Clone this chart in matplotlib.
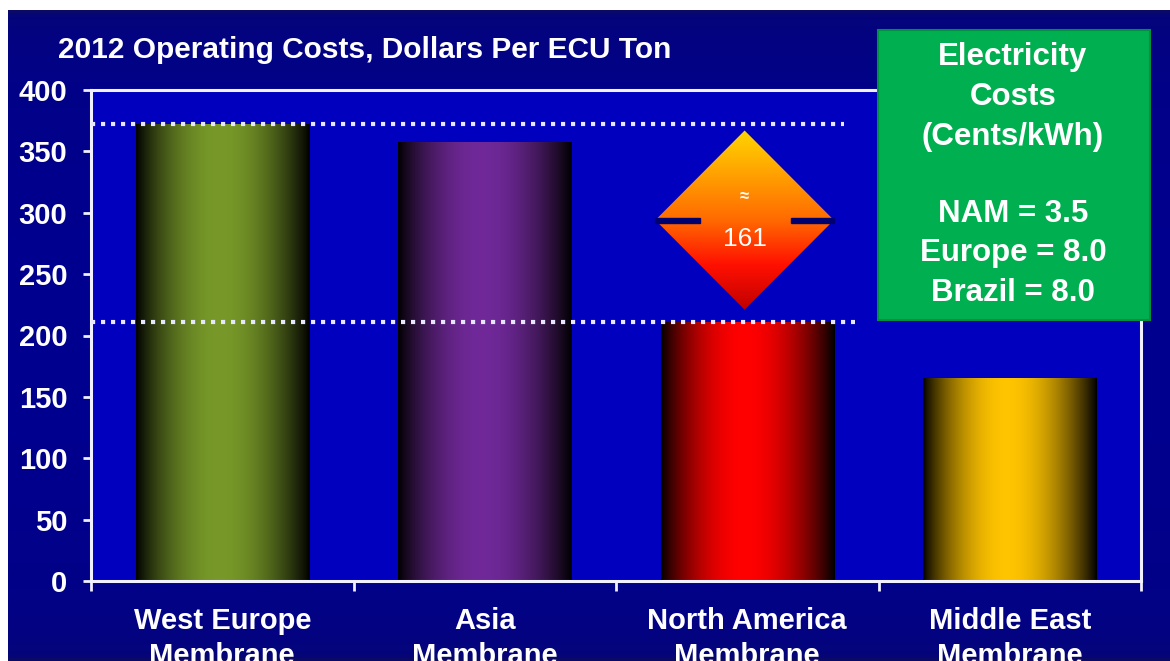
import numpy as np
import matplotlib.pyplot as plt
from matplotlib.patches import Rectangle, Polygon
from matplotlib.colors import LinearSegmentedColormap

plt.rcParams['font.family'] = ['Liberation Sans', 'DejaVu Sans']

# Operating costs per ECU ton, 2012
regions = ["West Europe\nMembrane", "Asia\nMembrane",
           "North America\nMembrane", "Middle East\nMembrane"]
costs = [372, 358, 211, 165]
bar_colors = [(0.47, 0.60, 0.16), (0.44, 0.16, 0.60),
              (1.00, 0.00, 0.00), (1.00, 0.77, 0.00)]
yticks = [0, 50, 100, 150, 200, 250, 300, 350, 400]

title = "2012 Operating Costs, Dollars Per ECU Ton"
power_lines = ["Electricity", "Costs", "(Cents/kWh)", "",
               "NAM = 3.5", "Europe = 8.0", "Brazil = 8.0"]

fig = plt.figure(figsize=(11.7, 6.61), dpi=100)
fig.patch.set_facecolor("white")

# navy slide background (small white margin on top and left)
bg = np.linspace(0, 1, 200)
bg_img = np.outer(np.sin(np.pi * bg) ** 0.2, np.ones(200))
bg_ax = fig.add_axes([8 / 1170, 0, 1 - 8 / 1170, 1 - 10 / 661])
bg_ax.imshow(bg_img, cmap=LinearSegmentedColormap.from_list(
    "bgc", ["#0a0a66", "#00008f"]), aspect="auto", extent=(0, 1, 0, 1))
bg_ax.set_axis_off()

ax = fig.add_axes([91 / 1170, 1 - 581 / 661, (1141 - 91) / 1170, (581 - 90) / 661])
ax.set_facecolor("#0000be")

x = np.arange(len(regions))
width = 0.66
bars = ax.bar(x, costs, width=width, color="none", zorder=2)

# cylinder shading for each bar
t = np.linspace(0, 1, 256)
shade = np.clip(np.sin(np.pi * t ** 0.95) ** 0.9, 0, 1)
for bar, col in zip(bars, bar_colors):
    img = np.ones((2, 256, 3)) * np.array(col)
    img = img * shade[None, :, None]
    x0 = bar.get_x()
    im = ax.imshow(img, extent=(x0, x0 + bar.get_width(), 0, bar.get_height()),
                   aspect="auto", zorder=2, interpolation="bilinear")
    im.set_clip_path(bar)

ax.set_xlim(-0.5, len(regions) - 0.5)
ax.set_ylim(0, 400)

# dotted reference lines at the West Europe and North America levels
ax.hlines(costs[0], -0.5, 2.37, colors="#e6e6ff", lw=3,
          linestyles=(0, (1, 1.4)), zorder=3)
ax.hlines(costs[2], -0.5, 2.41, colors="#e6e6ff", lw=3,
          linestyles=(0, (1, 1.4)), zorder=3)

# gap marker between the two levels
gap = costs[0] - costs[2]
cx, cy, hw, hh = 1.99, 294, 0.34, 73
diamond = Polygon([(cx, cy + hh), (cx + hw, cy), (cx, cy - hh), (cx - hw, cy)],
                  closed=True, facecolor="none", edgecolor="none", zorder=4)
ax.add_patch(diamond)
grad = LinearSegmentedColormap.from_list(
    "dia", ["#c00000", "#ff1000", "#ff6a00", "#ffa000", "#ffd500"])
dim = ax.imshow(np.linspace(0, 1, 256)[:, None], cmap=grad, origin="lower",
                extent=(cx - hw, cx + hw, cy - hh, cy + hh), aspect="auto",
                zorder=4)
dim.set_clip_path(diamond)
for a, b in [(cx - hw, cx - 0.17), (cx + 0.175, cx + hw)]:
    ax.add_patch(Rectangle((a, cy - 2), b - a, 4, color="#00006e", zorder=5))
ax.text(cx, cy + 19, "\u2248", color="white", fontsize=12, ha="center",
        va="center", fontweight="bold", zorder=6)
ax.text(cx, cy - 15, f"{gap}", color="white", fontsize=19, ha="center",
        va="center", zorder=6)

# axes styling
for side in ["left", "right", "top", "bottom"]:
    ax.spines[side].set_color("#f0f0ff")
    ax.spines[side].set_linewidth(2.2)
ax.set_yticks(yticks)
ax.set_yticklabels([str(v) for v in yticks], color="white", fontsize=21,
                   fontweight="bold")
ax.set_xticks(np.arange(len(regions) + 1) - 0.5, minor=False)
ax.set_xticklabels([""] * (len(regions) + 1))
ax.set_xticks(x, minor=True)
ax.set_xticklabels(regions, minor=True, color="white", fontsize=21,
                   fontweight="bold", linespacing=1.3)
ax.tick_params(axis="x", which="minor", length=0, pad=19)
ax.tick_params(axis="x", which="major", colors="#f0f0ff", length=7, width=2)
ax.tick_params(axis="y", colors="#f0f0ff", length=6, width=2, pad=11)
for lab in ax.get_yticklabels():
    lab.set_color("white")

fig.text(58 / 1170, 1 - 50 / 661, title, color="white", fontsize=21.5,
         fontweight="bold", va="center", ha="left")

# electricity cost box
fig.patches.append(Rectangle((878 / 1170, 1 - 320 / 661), 272 / 1170, 290 / 661,
                             transform=fig.transFigure, facecolor="#00b050",
                             edgecolor="#009040", lw=1.5, zorder=10))
line_y = [57, 97, 137, 176, 214, 253, 293]
for s, yy in zip(power_lines, line_y):
    fig.text(1013 / 1170, 1 - yy / 661, s, color="white", fontsize=22.5,
             fontweight="bold", ha="center", va="center", zorder=11)

fig.savefig("out.png", dpi=100, facecolor=fig.get_facecolor())
